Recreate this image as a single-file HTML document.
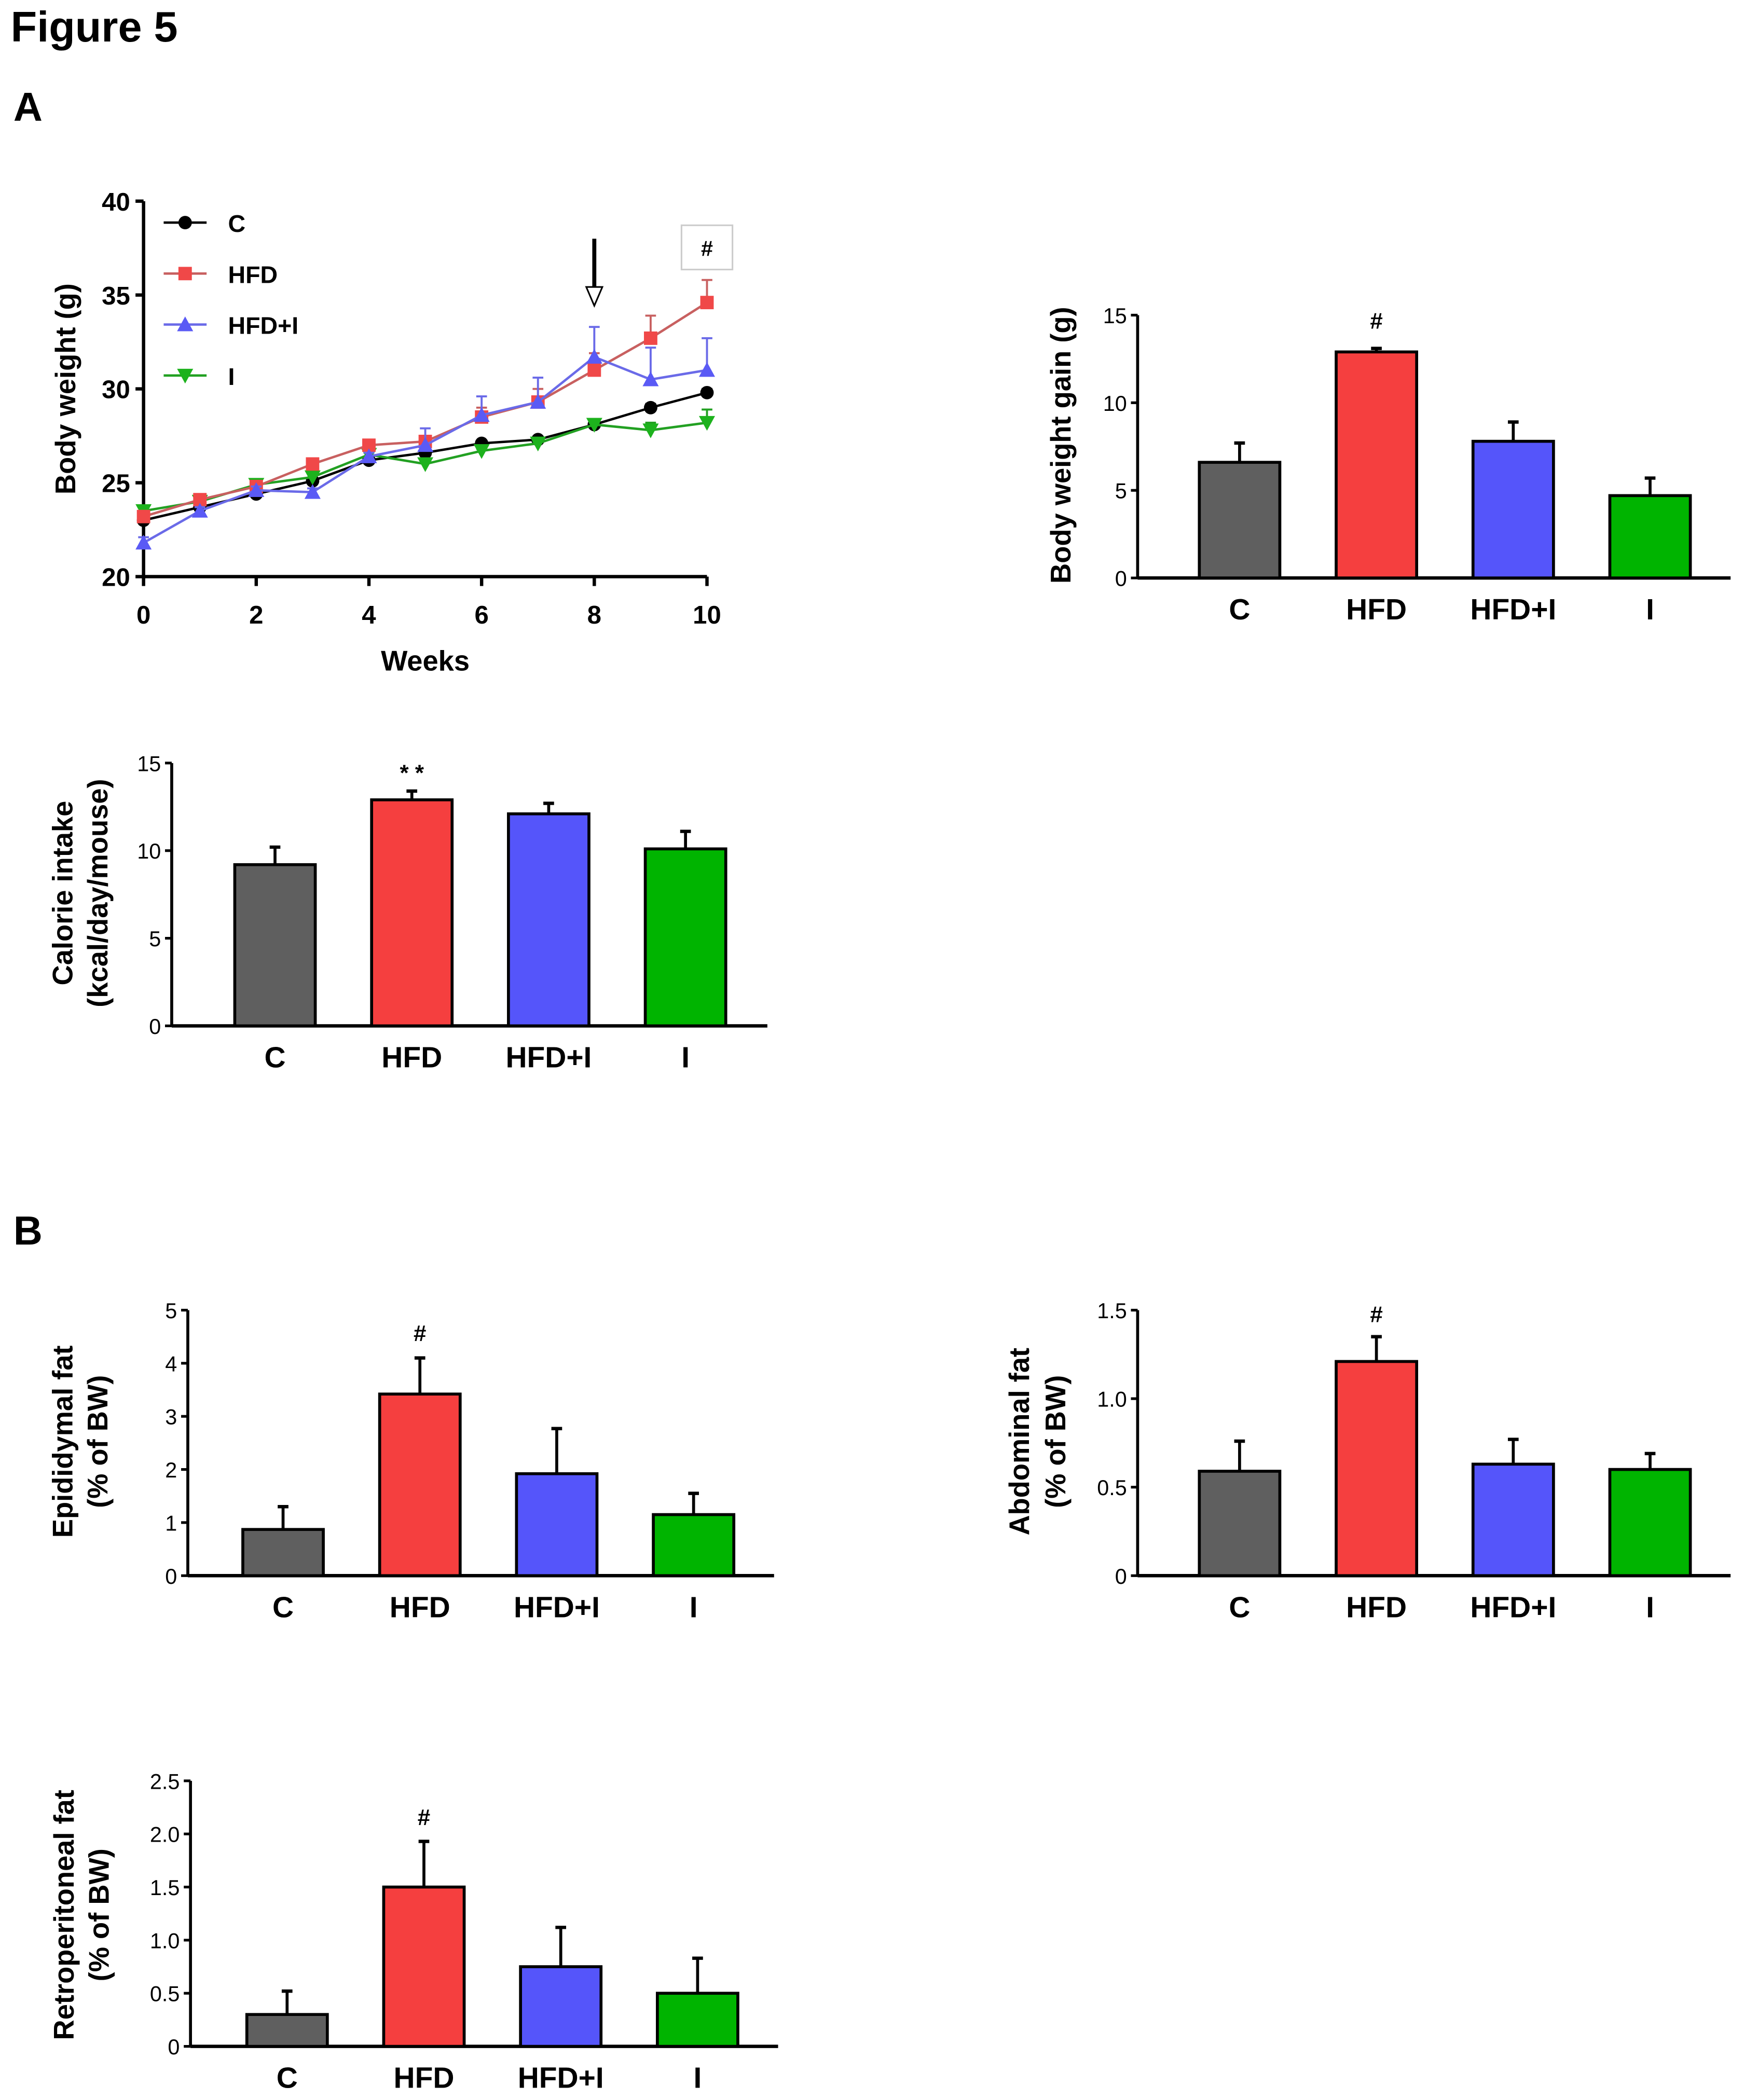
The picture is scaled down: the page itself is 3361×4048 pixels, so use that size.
<!DOCTYPE html>
<html><head><meta charset="utf-8"><style>
html,body{margin:0;padding:0;background:#fff;}
svg{display:block;font-family:"Liberation Sans",Arial,sans-serif;}
</style></head><body>
<svg id="fig" width="3361" height="4048" viewBox="0 0 1300 1566" preserveAspectRatio="none" xmlns="http://www.w3.org/2000/svg">
<text x="8" y="31" font-size="32" font-weight="bold">Figure 5</text>
<text x="10" y="90" font-size="30" font-weight="bold">A</text>
<text x="10" y="928" font-size="30" font-weight="bold">B</text>
<g id="line"></g>
<g id="bars"></g>
</svg>
<script>
// ---- line chart data ----
const weeks = [0,1,2,3,4,5,6,7,8,9,10];
const serC = [23.0,23.7,24.4,25.1,26.2,26.6,27.1,27.3,28.1,29.0,29.8];
const errC = [0.2,0.1,0.1,0.1,0.1,0.1,0.1,0.1,0.2,0.2,0.2];
const serHFD = [23.2,24.1,24.8,26.0,27.0,27.2,28.5,29.3,31.0,32.7,34.6];
const errHFD = [0.3,0.2,0.2,0.2,0.2,0.3,0.5,0.7,0.9,1.2,1.2];
const serHFDI = [21.8,23.5,24.6,24.5,26.4,27.0,28.6,29.3,31.7,30.5,31.0];
const errHFDI = [0.3,0.2,0.2,0.2,0.2,0.9,1.0,1.3,1.6,1.7,1.7];
const serI = [23.5,24.0,24.9,25.3,26.5,26.0,26.7,27.1,28.1,27.8,28.2];
const errI = [0.2,0.1,0.1,0.2,0.1,0.1,0.1,0.1,0.1,0.4,0.7];
const lineYTicks = [20,25,30,35,40];
const lineXTicks = [0,2,4,6,8,10];

// ---- bar chart data ----
const categories = ["C","HFD","HFD+I","I"];
const gainVals = [6.6,12.9,7.8,4.7];
const gainErr = [1.1,0.2,1.1,1.0];
const gainTicks = [0,5,10,15];
const calVals = [9.2,12.9,12.1,10.1];
const calErr = [1.0,0.5,0.6,1.0];
const calTicks = [0,5,10,15];
const epiVals = [0.87,3.42,1.92,1.15];
const epiErr = [0.43,0.68,0.85,0.40];
const epiTicks = [0,1,2,3,4,5];
const abdVals = [0.59,1.21,0.63,0.60];
const abdErr = [0.17,0.14,0.14,0.09];
const abdTicks = [0,0.5,1.0,1.5];
const retVals = [0.30,1.50,0.75,0.50];
const retErr = [0.22,0.43,0.37,0.33];
const retTicks = [0,0.5,1.0,1.5,2.0,2.5];

const NS="http://www.w3.org/2000/svg";
function mk(parent,tag,attrs,txt){const e=document.createElementNS(NS,tag);for(const k in attrs)e.setAttribute(k,attrs[k]);if(txt!==undefined)e.textContent=txt;parent.appendChild(e);return e;}

// ---- line chart ----
(function(){
const g=document.getElementById('line');
const x0=107,x1=527,yTop=150,yBot=430;
const xs=v=>x0+(v-0)/10*(x1-x0);
const ys=v=>yBot-(v-20)/20*(yBot-yTop);
let a=mk(g,'line',{x1:x0,y1:yTop,x2:x0,y2:yBot,stroke:'#000','stroke-width':2.5});

a=mk(g,'line',{x1:x0,y1:yBot,x2:x1,y2:yBot,stroke:'#000','stroke-width':2.5});

lineYTicks.forEach(t=>{
 mk(g,'line',{x1:x0-6,y1:ys(t),x2:x0,y2:ys(t),stroke:'#000','stroke-width':2.5});
 const tl=mk(g,'text',{x:x0-10,y:ys(t)+7,'text-anchor':'end','font-size':19,'font-weight':'bold'},String(t));
 
});
lineXTicks.forEach(t=>{
 mk(g,'line',{x1:xs(t),y1:yBot,x2:xs(t),y2:yBot+7,stroke:'#000','stroke-width':2.5});
 const tl=mk(g,'text',{x:xs(t),y:yBot+35,'text-anchor':'middle','font-size':19,'font-weight':'bold'},String(t));
 
});
let t=mk(g,'text',{x:317,y:500,'text-anchor':'middle','font-size':21,'font-weight':'bold'},'Weeks');

t=mk(g,'text',{x:0,y:0,'text-anchor':'middle','font-size':21,'font-weight':'bold',transform:'translate(56,290) rotate(-90)'},'Body weight (g)');

const series=[
 {name:'c',v:serC,e:errC,line:'#000',fill:'#000',mark:'circle'},
 {name:'i',v:serI,e:errI,line:'#22a022',fill:'#1db21d',mark:'tridown'},
 {name:'hfd',v:serHFD,e:errHFD,line:'#c86060',fill:'#f04848',mark:'square'},
 {name:'hfd-i',v:serHFDI,e:errHFDI,line:'#6a6ae8',fill:'#5a5af5',mark:'triup'}];
function marker(p,m,x,y,fill){
 let e;
 if(m==='circle')e=mk(p,'circle',{cx:x,cy:y,r:5,fill:fill});
 else if(m==='square')e=mk(p,'rect',{x:x-5,y:y-5,width:10,height:10,fill:fill});
 else if(m==='triup')e=mk(p,'polygon',{points:`${x},${y-6} ${x-6},${y+5} ${x+6},${y+5}`,fill:fill});
 else e=mk(p,'polygon',{points:`${x},${y+6} ${x-6},${y-5} ${x+6},${y-5}`,fill:fill});
 return e;
}
series.forEach(s=>{
 const sg=mk(g,'g',{});
 
 s.v.forEach((v,i)=>{
  const x=xs(weeks[i]),y1=ys(v),y2=ys(v+s.e[i]);
  mk(sg,'line',{x1:x,y1:y1,x2:x,y2:y2,stroke:s.line,'stroke-width':1.5});
  mk(sg,'line',{x1:x-4,y1:y2,x2:x+4,y2:y2,stroke:s.line,'stroke-width':1.5});
 });
 const pts=s.v.map((v,i)=>xs(weeks[i])+','+ys(v)).join(' ');
 const pl=mk(sg,'polyline',{points:pts,fill:'none',stroke:s.line,'stroke-width':1.8});
 
 s.v.forEach((v,i)=>{
  const m=marker(sg,s.mark,xs(weeks[i]),ys(v),s.fill);
  
 });
});
const leg=[['C','#000','#000','circle',166],['HFD','#c86060','#f04848','square',204],['HFD+I','#6a6ae8','#5a5af5','triup',242],['I','#22a022','#1db21d','tridown',280]];
leg.forEach(l=>{
 const lg=mk(g,'g',{});
 
 mk(lg,'line',{x1:122,y1:l[4],x2:154,y2:l[4],stroke:l[1],'stroke-width':1.8});
 marker(lg,l[3],138,l[4],l[2]);
 mk(lg,'text',{x:170,y:l[4]+7,'font-size':18,'font-weight':'bold'},l[0]);
});
const ar=mk(g,'g',{});

mk(ar,'line',{x1:443,y1:178,x2:443,y2:214,stroke:'#000','stroke-width':3});
mk(ar,'polygon',{points:'437,214 449,214 443,228',fill:'#fff',stroke:'#000','stroke-width':1.2});
const hb=mk(g,'g',{});

mk(hb,'rect',{x:508,y:168,width:38,height:33,fill:'#fff',stroke:'#ccc','stroke-width':1.2});
mk(hb,'text',{x:527,y:191,'text-anchor':'middle','font-size':16,'font-weight':'bold'},'#');
})();

// ---- bar charts ----
const colors=['#5f5f5f','#f53f3f','#5555fa','#00b400'];
function barChart(o){
 const g=mk(document.getElementById('bars'),'g',{});
 
 const max=o.ticks[o.ticks.length-1];
 const ys=v=>o.yBot-v/max*(o.yBot-o.yTop);
 let a=mk(g,'line',{x1:o.ax,y1:o.yTop,x2:o.ax,y2:o.yBot,stroke:'#000','stroke-width':2.2});
 
 a=mk(g,'line',{x1:o.ax,y1:o.yBot,x2:o.xEnd,y2:o.yBot,stroke:'#000','stroke-width':2.5});
 
 o.ticks.forEach(t=>{
  mk(g,'line',{x1:o.ax-5,y1:ys(t),x2:o.ax,y2:ys(t),stroke:'#000','stroke-width':2});
  const tl=mk(g,'text',{x:o.ax-8,y:ys(t)+6,'text-anchor':'end','font-size':16},t===0?'0':o.fmt(t));
  
 });
 o.vals.forEach((v,i)=>{
  const bx=o.b0+i*o.step;
  mk(g,'line',{x1:bx+30,y1:ys(v),x2:bx+30,y2:ys(v+o.err[i]),stroke:'#000','stroke-width':2.2});
  mk(g,'line',{x1:bx+26,y1:ys(v+o.err[i]),x2:bx+34,y2:ys(v+o.err[i]),stroke:'#000','stroke-width':2.5});
  const r=mk(g,'rect',{x:bx,y:ys(v),width:60,height:o.yBot-ys(v),fill:colors[i],stroke:'#000','stroke-width':2.2});
  
  
  const cl=mk(g,'text',{x:bx+30,y:o.yBot+31,'text-anchor':'middle','font-size':22,'font-weight':'bold'},categories[i]);
  
 });
 const sg=mk(g,'text',{x:o.b0+o.step+30,y:o.sigY,'text-anchor':'middle','font-size':17,'font-weight':'bold'},o.sig);
 
 o.titles.forEach((tt,k)=>{
  const tx=mk(g,'text',{x:0,y:0,'text-anchor':'middle','font-size':21,'font-weight':'bold',transform:`translate(${o.tx[k]},${o.tcy}) rotate(-90)`},tt);
  
 });
}
const f0=t=>String(t), f1=t=>t.toFixed(1);
barChart({name:'body-weight-gain-chart',vals:gainVals,err:gainErr,ticks:gainTicks,fmt:f0,ax:848,yTop:235,yBot:431,xEnd:1290,b0:894,step:102,sig:'#',sigY:245,titles:['Body weight gain (g)'],tx:[798],tcy:332});
barChart({name:'calorie-intake-chart',vals:calVals,err:calErr,ticks:calTicks,fmt:f0,ax:128,yTop:569,yBot:765,xEnd:572,b0:175,step:102,sig:'* *',sigY:582,titles:['Calorie intake','(kcal/day/mouse)'],tx:[54,80],tcy:666});
barChart({name:'epididymal-fat-chart',vals:epiVals,err:epiErr,ticks:epiTicks,fmt:f0,ax:140,yTop:977,yBot:1175,xEnd:577,b0:181,step:102,sig:'#',sigY:1000,titles:['Epididymal fat','(% of BW)'],tx:[54,80],tcy:1075});
barChart({name:'abdominal-fat-chart',vals:abdVals,err:abdErr,ticks:abdTicks,fmt:f1,ax:848,yTop:977,yBot:1175,xEnd:1290,b0:894,step:102,sig:'#',sigY:986,titles:['Abdominal fat','(% of BW)'],tx:[767,794],tcy:1075});
barChart({name:'retroperitoneal-fat-chart',vals:retVals,err:retErr,ticks:retTicks,fmt:f1,ax:142,yTop:1328,yBot:1526,xEnd:580,b0:184,step:102,sig:'#',sigY:1361,titles:['Retroperitoneal fat','(% of BW)'],tx:[55,81],tcy:1428});
</script>
</body></html>
